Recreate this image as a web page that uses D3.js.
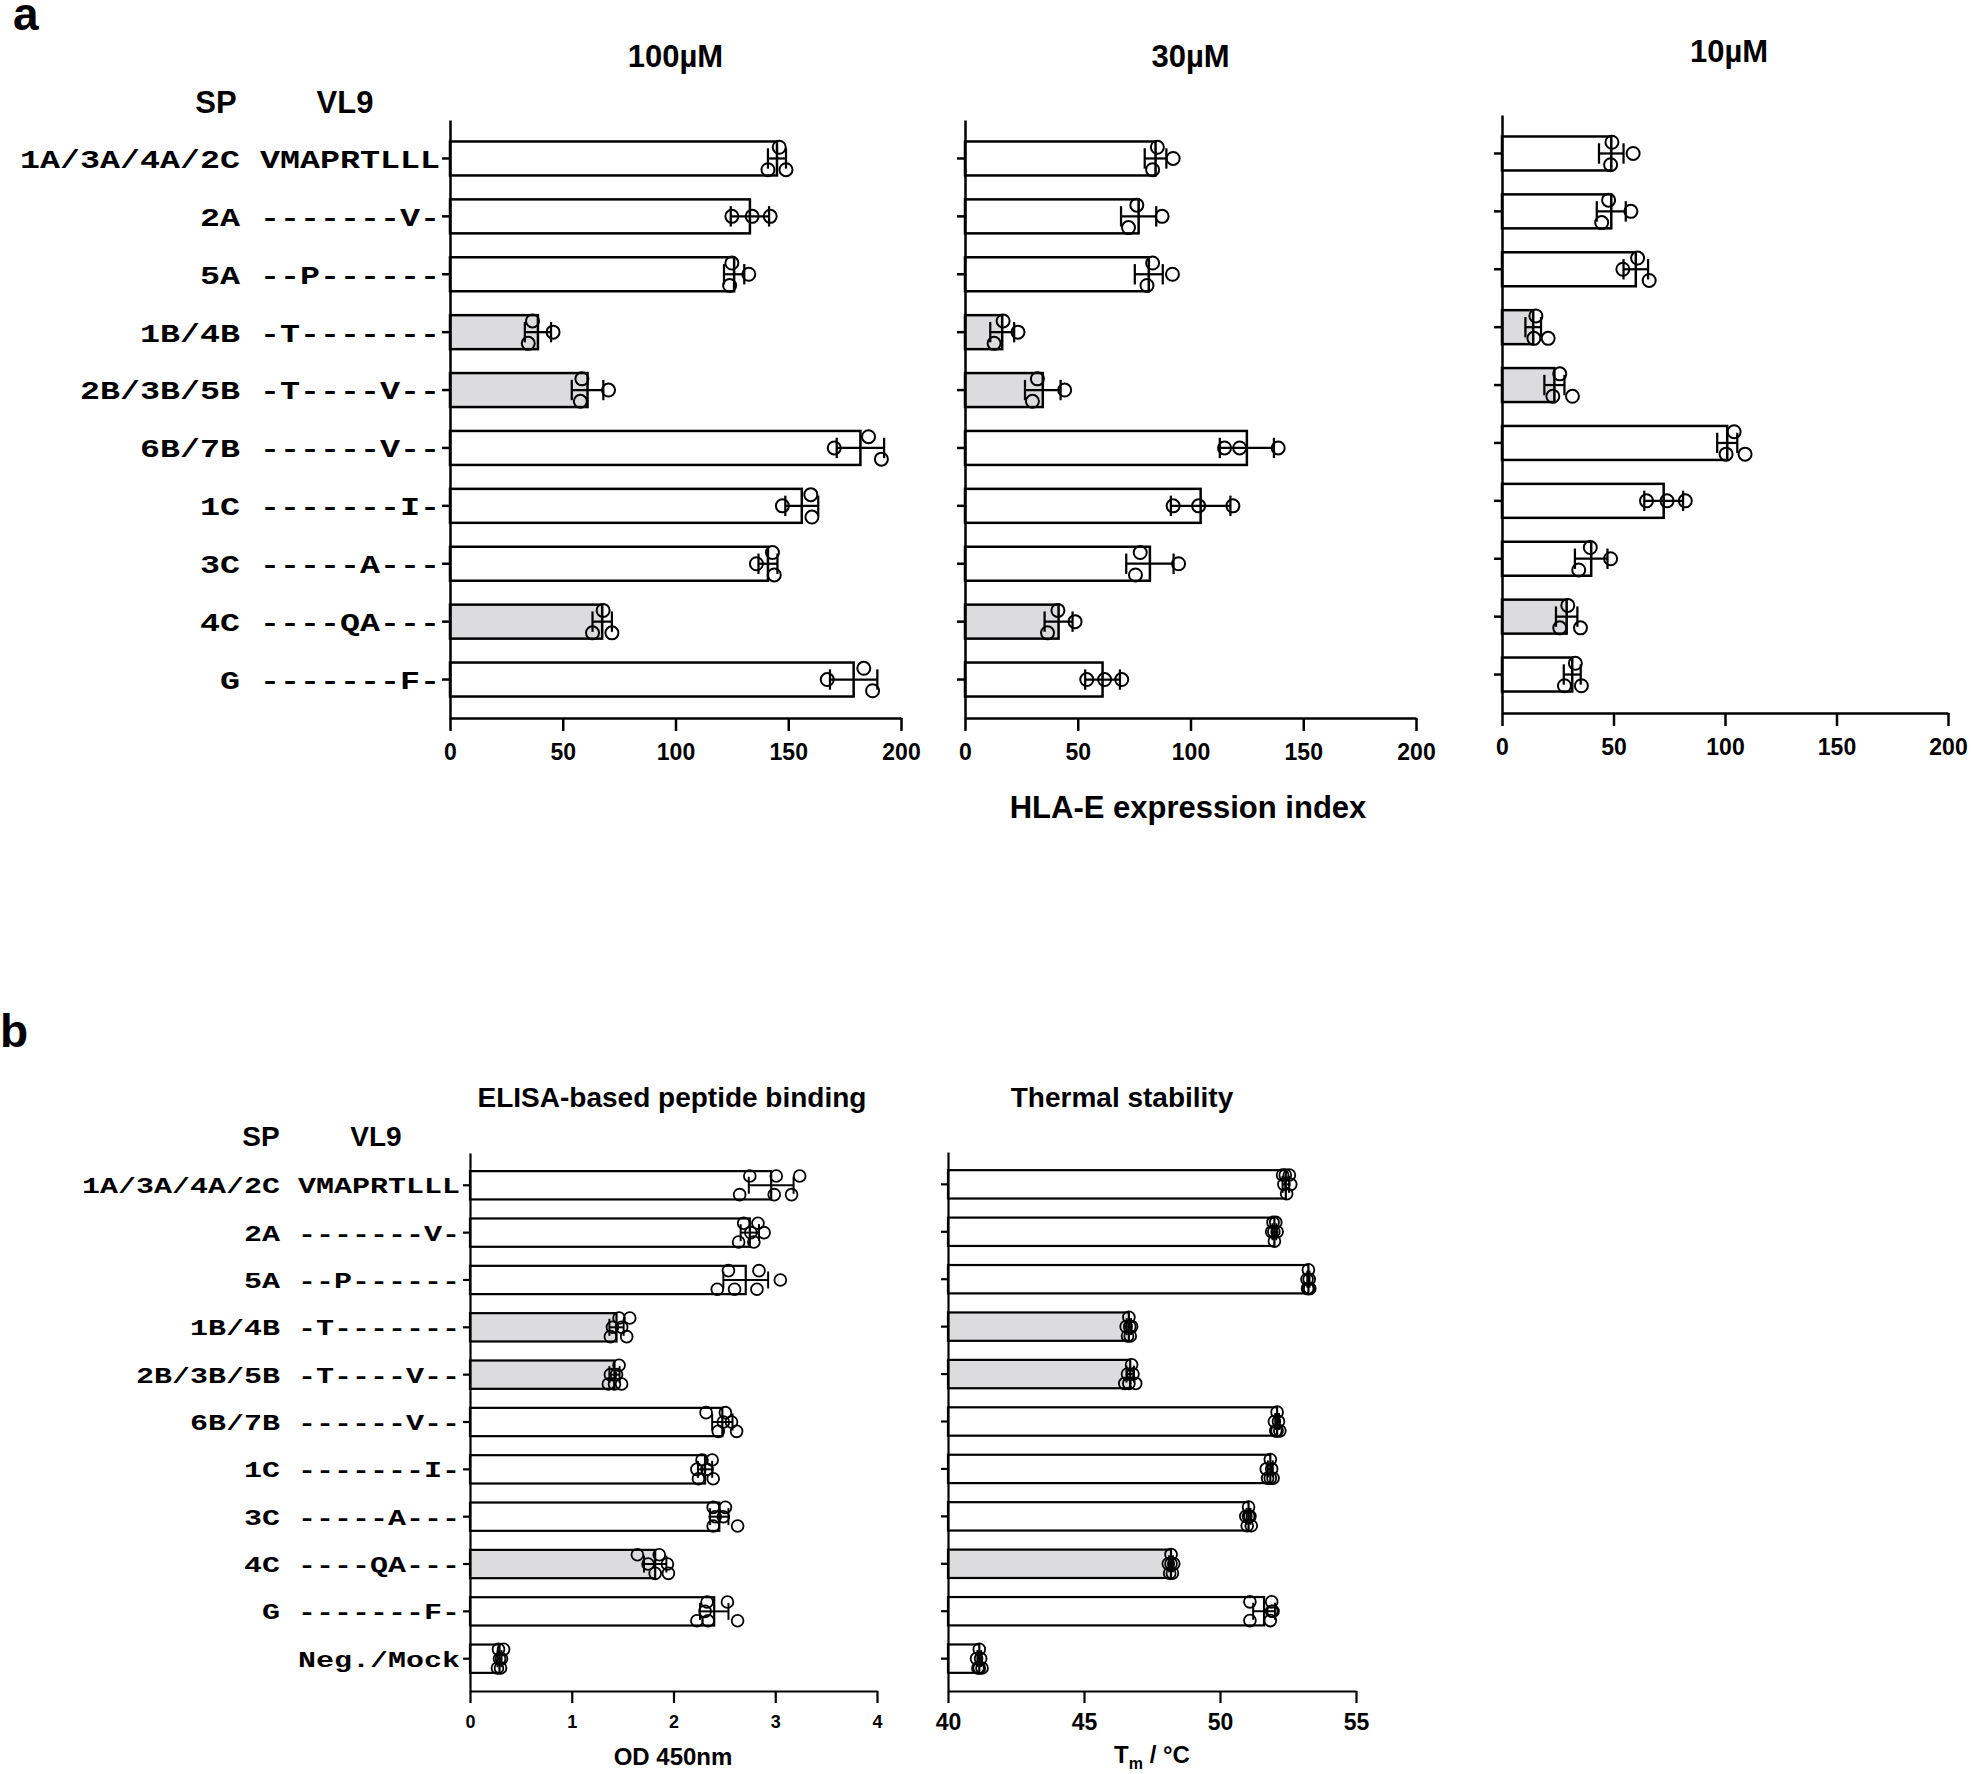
<!DOCTYPE html>
<html><head><meta charset="utf-8">
<script src="https://cdn.jsdelivr.net/npm/d3@7"></script>
<style>
body{margin:0;background:#fff;}
svg{display:block;}
</style></head><body>
<svg id="chart" width="1971" height="1774"></svg>
<script>
// ---------------- DATA ----------------
const spNames = ["1A/3A/4A/2C","2A","5A","1B/4B","2B/3B/5B","6B/7B","1C","3C","4C","G"];
const seqs    = ["VMAPRTLLL","-------V-","--P------","-T-------","-T----V--","------V--","-------I-","-----A---","----QA---","-------F-"];
const negName = "Neg./Mock";
const lowBinders = ["1B/4B","2B/3B/5B","4C"];

const xTicksA = [0,50,100,150,200];
const xTicksElisa = [0,1,2,3,4];
const xTicksTm = [40,45,50,55];

// HLA-E expression index, 100 uM
const mean100 = [145,133,126,39,61,182,156,141,67.5,179];
const sd100   = [4,8.5,4.5,5.8,7,10.5,7.3,4.2,4.3,10.5];
const dots100 = [[146,141,149],[125,134,142],[125,124,132.5],[36.6,34.7,45.7],[58.5,57.8,70.3],
                 [185.6,191.3,170.4],[160,160.5,147.4],[143,143.8,135.9],[67.9,63.2,71.8],[183.5,187.4,167.3]];
// 30 uM
const mean30 = [84.5,77,81.5,16.5,34.5,125,104.5,82,41.5,61];
const sd30   = [4.8,7.8,6.2,5.3,7.9,12,13.2,10.5,6.2,7.7];
const dots30 = [[85.3,83.2,92.3],[76.2,72.5,87.4],[83.2,80.7,92],[16.9,12.9,23.5],[32.1,29.9,44.2],
                [115.1,121.8,138.9],[92.3,103.6,118.8],[77.7,75.6,94.7],[41.2,36.6,48.8],[54,61.9,69.5]];
// 10 uM
const mean10 = [49,49,60,14,23.5,101,72.5,40,29,31.5];
const sd10   = [5.5,6.5,5.5,3.5,4.5,4.5,8.7,7.3,4.8,3.8];
const dots10 = [[49.3,48.7,58.8],[47.8,44.7,57.8],[60.8,66,54.2],[15.2,14.3,20.7],[25.9,22.8,31.6],
                [104.1,100.5,109],[64.8,74,82.2],[39.6,34.4,48.7],[29.5,25.9,35.2],[32.9,28,35.6]];

// ELISA OD450
const meanElisa = [2.96,2.75,2.71,1.44,1.42,2.48,2.31,2.45,1.82,2.40,0.29];
const sdElisa   = [0.22,0.09,0.22,0.07,0.05,0.10,0.07,0.09,0.11,0.14,0.02];
const dotsElisa = [[2.75,2.65,3.01,2.99,3.24,3.16],[2.69,2.64,2.83,2.79,2.89,2.76],[2.54,2.43,2.60,2.84,2.82,3.05],
                   [1.465,1.38,1.54,1.57,1.40,1.49],[1.465,1.36,1.49,1.38,1.44,1.42],[2.51,2.32,2.62,2.44,2.57,2.49],
                   [2.28,2.245,2.39,2.33,2.23,2.38],[2.39,2.39,2.49,2.41,2.51,2.63],[1.86,1.82,1.645,1.75,1.94,1.95],
                   [2.33,2.23,2.31,2.34,2.53,2.63],[0.28,0.30,0.31,0.29,0.33,0.27]];
// Thermal stability Tm
const meanTm = [52.42,52.0,53.25,46.65,46.7,52.1,51.85,51.05,48.2,51.62,41.15];
const sdTm   = [0.12,0.07,0.04,0.08,0.14,0.07,0.09,0.07,0.07,0.40,0.07];
const dotsTm = [[52.3,52.45,52.6,52.35,52.55,52.4],[51.95,52.0,52.1,51.9,52.05,51.98],[53.25,53.3,53.2,53.28,53.22,53.25],
                [46.65,46.6,46.75,46.55,46.7,46.68],[46.75,46.5,46.8,46.6,46.9,46.65],[52.1,52.05,52.15,52.2,52.0,52.1],
                [51.85,51.75,51.9,51.95,51.7,51.85],[51.05,51.0,51.1,51.15,50.95,51.05],[48.2,48.15,48.3,48.25,48.1,48.2],
                [51.1,51.1,51.9,51.85,51.95,51.9],[41.15,41.1,41.2,41.25,41.05,41.15]];

// ---------------- DRAWING ----------------
const SANS = "'Liberation Sans', Arial, Helvetica, sans-serif";
const MONO = "'Liberation Mono', 'Courier New', monospace";
const svg = d3.select("#chart");

const labelsA = spNames.map((s,i) => s + " " + seqs[i]);
const labelsB = [...labelsA, negName];
const spOf = lbl => lbl.split(" ")[0];

function laneOffsets(vals, x, thr, s) {
  const px = vals.map(v => x(v));
  const placed = [];
  const off = [];
  vals.forEach((v, i) => {
    const iso = px.every((p, j) => j === i || Math.abs(p - px[i]) >= thr);
    if (iso) { off[i] = 0; placed.push([px[i], 0]); return; }
    let best = 0, bestD = -1;
    for (const c of [-s, s, 0]) {
      const d = placed.length ? d3.min(placed, q => Math.hypot(q[0] - px[i], q[1] - c)) : Infinity;
      if (d >= thr) { best = c; break; }
      if (d > bestD) { bestD = d; best = c; }
    }
    off[i] = best; placed.push([px[i], best]);
  });
  return off;
}

function panel(cfg) {
  const g = svg.append("g");
  const x = d3.scaleLinear().domain(cfg.domain).range(cfg.xr);
  const y = d3.scaleBand().domain(cfg.rows).range(cfg.yr).paddingInner(cfg.pi).paddingOuter(cfg.po);
  const bw = y.bandwidth();
  const x0 = x(cfg.domain[0]);

  // bars
  g.selectAll("rect.bar").data(cfg.rows).join("rect").attr("class","bar")
    .attr("x", x0).attr("y", d => y(d))
    .attr("width", (d,i) => x(cfg.means[i]) - x0).attr("height", bw)
    .attr("fill", d => lowBinders.includes(spOf(d)) ? "#dcdcde" : "#fff")
    .attr("stroke", "#000").attr("stroke-width", cfg.sw);

  // error bars
  const capH = bw * 0.6;
  const eb = g.selectAll("g.eb").data(cfg.rows).join("g").attr("class","eb")
    .attr("stroke","#000").attr("stroke-width", cfg.sw * 0.9);
  eb.append("line")
    .attr("x1", (d,i) => x(cfg.means[i] - cfg.sds[i])).attr("x2", (d,i) => x(cfg.means[i] + cfg.sds[i]))
    .attr("y1", d => y(d) + bw/2).attr("y2", d => y(d) + bw/2);
  [-1, 1].forEach(sgn => {
    eb.append("line")
      .attr("x1", (d,i) => x(cfg.means[i] + sgn*cfg.sds[i])).attr("x2", (d,i) => x(cfg.means[i] + sgn*cfg.sds[i]))
      .attr("y1", d => y(d) + bw/2 - capH/2).attr("y2", d => y(d) + bw/2 + capH/2);
  });

  // dots
  cfg.rows.forEach((row, i) => {
    const vals = cfg.dots[i];
    const offs = laneOffsets(vals, x, cfg.thr, bw * 0.33);
    g.selectAll(null).data(vals).join("circle")
      .attr("cx", v => x(v)).attr("cy", (v,k) => y(row) + bw/2 + offs[k])
      .attr("r", cfg.r).attr("fill", "none").attr("stroke", "#000").attr("stroke-width", cfg.dsw);
  });

  // x axis
  const xa = g.append("g").attr("transform", `translate(0,${cfg.yr[1]})`)
    .call(d3.axisBottom(x).tickValues(cfg.xticks).tickSize(cfg.xtick).tickSizeOuter(0).tickFormat(d3.format("d")));
  xa.selectAll(".tick text").attr("y", cfg.xlabOff).attr("dy", 0)
    .attr("font-family", SANS).attr("font-weight", "bold").attr("font-size", cfg.xfs).attr("fill", "#000");
  // y axis
  const ya = g.append("g").attr("transform", `translate(${x0},0)`)
    .call(d3.axisLeft(y).tickSize(cfg.ytick).tickSizeOuter(0).tickPadding(cfg.ypad)
      .tickFormat(d => cfg.showLabels ? d : ""));
  ya.selectAll(".tick text")
    .attr("font-family", MONO).attr("font-weight", "bold").attr("font-size", cfg.yfs).attr("fill", "#000")
    .attr("dy", "0.36em");
  if (cfg.showLabels) {
    ya.selectAll(".tick text").attr("textLength", d => d.length * cfg.pitch).attr("lengthAdjust", "spacingAndGlyphs");
  }
  [xa, ya].forEach(a => {
    a.select(".domain").attr("stroke", "#000").attr("stroke-width", cfg.sw);
    a.selectAll(".tick line").attr("stroke", "#000").attr("stroke-width", cfg.sw);
  });

  // title
  svg.append("text").attr("x", cfg.titleX != null ? cfg.titleX : (cfg.xr[0] + cfg.xr[1]) / 2).attr("y", cfg.titleY)
    .attr("text-anchor", "middle").attr("font-family", SANS).attr("font-weight", "bold")
    .attr("font-size", cfg.tfs).text(cfg.title);
  return {x, y};
}

const commonA = {domain:[0,200], xticks:xTicksA, pi:0.413, po:0.371, sw:2.5, dsw:2, r:6.5, thr:14,
                 xtick:13, xlabOff:42, xfs:23, ytick:8, ypad:2, yfs:26, pitch:20, tfs:31};
panel({...commonA, rows:labelsA, xr:[450,901], yr:[120,718], means:mean100, sds:sd100, dots:dots100,
       showLabels:true, title:"100µM", titleY:67});
panel({...commonA, rows:labelsA, xr:[965,1416], yr:[120,718], means:mean30, sds:sd30, dots:dots30,
       showLabels:false, title:"30µM", titleY:67});
panel({...commonA, rows:labelsA, xr:[1502,1948], yr:[115,713], means:mean10, sds:sd10, dots:dots10,
       showLabels:false, title:"10µM", titleY:62, titleX:1729});

const commonB = {pi:0.402, po:0.383, sw:2.2, dsw:1.8, r:5.9, thr:13, xtick:12, ytick:7, ypad:3, yfs:22, pitch:18, tfs:28};
panel({...commonB, rows:labelsB, domain:[0,4], xticks:xTicksElisa, xr:[470,877], yr:[1153,1691],
       means:meanElisa, sds:sdElisa, dots:dotsElisa, showLabels:true, xlabOff:37, xfs:18,
       title:"ELISA-based peptide binding", titleY:1107, titleX:672});
panel({...commonB, rows:labelsB, domain:[40,55], xticks:xTicksTm, xr:[948,1356], yr:[1152,1691],
       means:meanTm, sds:sdTm, dots:dotsTm, showLabels:false, xlabOff:39, xfs:23,
       title:"Thermal stability", titleY:1107, titleX:1122});

// panel letters and headers
const txt = (x, y, s, fs, anchor) => svg.append("text").attr("x", x).attr("y", y)
  .attr("text-anchor", anchor || "start").attr("font-family", SANS).attr("font-weight", "bold")
  .attr("font-size", fs).text(s);
txt(13, 30, "a", 46);
txt(0, 1047, "b", 46);
txt(216, 113, "SP", 31, "middle");
txt(345, 113, "VL9", 31, "middle");
txt(261, 1146, "SP", 28, "middle");
txt(376, 1146, "VL9", 28, "middle");
txt(1188, 818, "HLA-E expression index", 31, "middle");
txt(673, 1765, "OD 450nm", 24, "middle");
const tm = svg.append("text").attr("x", 1152).attr("y", 1763).attr("text-anchor", "middle")
  .attr("font-family", SANS).attr("font-weight", "bold").attr("font-size", 24);
tm.append("tspan").text("T");
tm.append("tspan").attr("dy", 6).attr("font-size", 16).text("m");
tm.append("tspan").attr("dy", -6).text(" / °C");
</script>
</body></html>
